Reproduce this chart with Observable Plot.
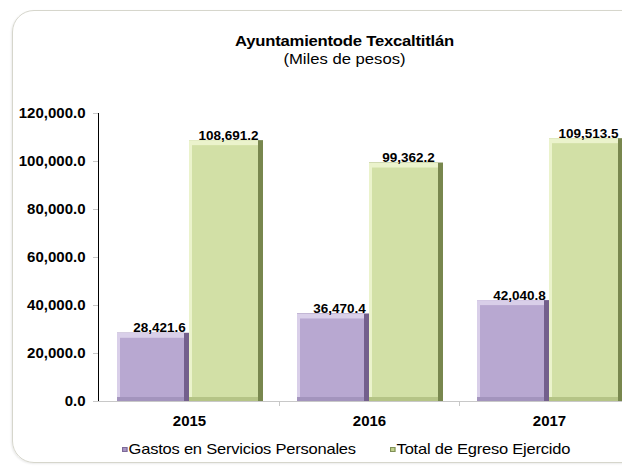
<!DOCTYPE html>
<html>
<head>
<meta charset="utf-8">
<script src="https://cdn.jsdelivr.net/npm/d3@7"></script>
<script src="https://cdn.jsdelivr.net/npm/@observablehq/plot@0.6"></script>
<style>
  html, body { margin: 0; padding: 0; background: #fff; overflow: hidden; }
  #wrap { position: relative; width: 622px; height: 466px; overflow: hidden; font-family: "Liberation Sans", Arial, sans-serif; }
  #frame { position: absolute; left: 12px; top: 10px; width: 650px; height: 451px; border: 1.5px solid #d6d6cc; border-radius: 22px; box-shadow: -1px 1px 2px rgba(0,0,0,0.08); }
  #chart { position: absolute; left: 0; top: 0; }
  .title { position: absolute; left: 0; width: 689px; text-align: center; font-size: 15px; line-height: 18px; color: #000; transform: scaleX(1.11); transform-origin: 344.5px 0; }
  #t1 { top: 32px; font-weight: bold; letter-spacing: -0.2px; }
  #t2 { top: 50px; }
  .leg { position: absolute; top: 440px; font-size: 15px; line-height: 18px; color: #000; white-space: nowrap; letter-spacing: -0.2px; transform: scaleX(1.1); transform-origin: 0 0; }
  .sw { display: inline-block; width: 5px; height: 5px; margin-right: 1px; vertical-align: 2px; box-sizing: border-box; }
</style>
</head>
<body>
<div id="wrap">
  <div id="frame"></div>
  <div id="chart"></div>
  <div class="title" id="t1">Ayuntamientode Texcaltitlán</div>
  <div class="title" id="t2">(Miles de pesos)</div>
  <div class="leg" id="leg1" style="left:122px"><span class="sw" style="background:#a895c4;border:1px solid #7d6a99"></span>Gastos en Servicios Personales</div>
  <div class="leg" id="leg2" style="left:390px"><span class="sw" style="background:#c3d38d;border:1px solid #7f8f57"></span>Total de Egreso Ejercido</div>
</div>
<script>
const years = ["2015", "2016", "2017"];
const gastos = [28421.6, 36470.4, 42040.8];
const total = [108691.2, 99362.2, 109513.5];
const seriesNames = ["Gastos en Servicios Personales", "Total de Egreso Ejercido"];
const yTicks = [0, 20000, 40000, 60000, 80000, 100000, 120000];

const gData = years.map((y, i) => ({year: y, value: gastos[i], series: seriesNames[0]}));
const tData = years.map((y, i) => ({year: y, value: total[i], series: seriesNames[1]}));
const fmt = d3.format(",.1f");

function bevelBars(data, c, left, right) {
  return [
    Plot.barY(data, {x: "year", y: "value", fill: c.dark, insetLeft: left, insetRight: right}),
    Plot.barY(data, {x: "year", y: "value", fill: c.bottom, insetLeft: left, insetRight: right + 5}),
    Plot.barY(data, {x: "year", y: "value", fill: c.light, insetLeft: left, insetRight: right + 5, insetBottom: 4}),
    Plot.barY(data, {x: "year", y: "value", fill: c.face, insetLeft: left + 3, insetRight: right + 5, insetTop: 5, insetBottom: 4})
  ];
}

const purple = {dark: "#735f8c", bottom: "#a394bd", light: "#d9cfe9", face: "#b8a8d1"};
const green = {dark: "#78874e", bottom: "#b5c486", light: "#ebf3cc", face: "#d2e0a6"};

const chart = Plot.plot({
  width: 640,
  height: 466,
  marginLeft: 98,
  marginRight: 0,
  marginTop: 113,
  marginBottom: 65,
  style: {background: "transparent", maxWidth: "none", overflow: "visible", fontFamily: "Liberation Sans, Arial, sans-serif", fontSize: "15px", fontWeight: "bold", color: "#000"},
  x: {type: "band", domain: years, padding: 0},
  y: {domain: [0, 120000], ticks: yTicks, tickFormat: fmt, tickSize: 5, tickPadding: 8, line: true, label: null},
  marks: [
    Plot.ruleY([0], {stroke: "#c8c8c8", strokeWidth: 1.2}),
    ...bevelBars(gData, purple, 18, 90),
    ...bevelBars(tData, green, 90, 16),
    Plot.text(gData, {x: "year", y: "value", text: d => fmt(d.value), dx: -30, dy: -1, lineAnchor: "bottom", fontSize: 13.5, fontWeight: "bold", fill: "#000"}),
    Plot.text(tData, {x: "year", y: "value", text: d => fmt(d.value), dx: 39, dy: -1, lineAnchor: "bottom", fontSize: 13.5, fontWeight: "bold", fill: "#000"}),
    Plot.axisX({tickSize: 0, tickPadding: 14, label: null, fontSize: 15, fontWeight: "bold"}),
    Plot.axisX({tickSize: 5, tickFormat: () => "", label: null, dx: 90, stroke: "#c8c8c8"})
  ]
});
chart.querySelectorAll("[aria-label='y-axis tick'] path, [aria-label='y-axis tick'], [aria-label='y-axis line']").forEach(e => e.setAttribute("stroke", "#c8c8c8"));
document.getElementById("chart").appendChild(chart);
</script>
</body>
</html>
